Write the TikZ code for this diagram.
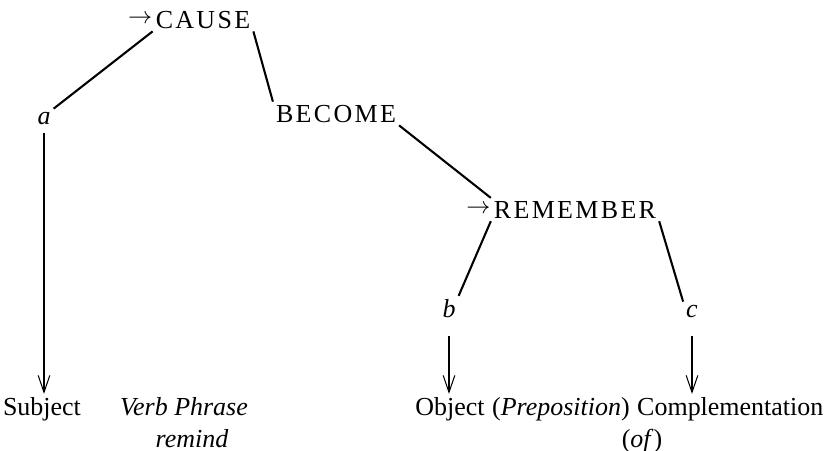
\documentclass[tikz,border=0pt]{standalone}
\usepackage{fontspec}
\setmainfont{Liberation Serif}
\usetikzlibrary{arrows.meta,positioning}

\begin{document}
\begin{tikzpicture}[
  x=0.385pt, y=-0.385pt,
  word/.style={inner sep=1pt, anchor=base},
  pred/.style={word, font=\addfontfeature{LetterSpace=9}},
  tick/.style={inner sep=0pt, font=\small},
  branch/.style={line width=0.8pt},
  maps/.style={line width=0.4pt, -{Straight Barb[length=6.5pt,width=4.5pt]}},
  >=Stealth
]
  \useasboundingbox (0,0) rectangle (827,450);

  % Predicates of the tree
  \node[pred, label={[tick]left:$\rightarrow$}] (cause) at (203,28) {CAUSE};
  \node[pred] (become) at (336,122) {BECOME};
  \node[pred, label={[tick]left:$\rightarrow$}] (remember) at (575,218) {REMEMBER};

  % Arguments
  \node[word] (a) at (44,124) {\textit{a}};
  \node[word] (b) at (449,317) {\textit{b}};
  \node[word] (c) at (692,317) {\textit{c}};

  % Surface categories
  \node[word] (subj) at (42,415) {Subject};
  \node[word] (vp) at (184,415) {\textit{Verb Phrase}};
  \node[word] (remind) at (192,447) {\textit{remind}};
  \node[word] (obj) at (450,415) {Object};
  \node[word, base right=0.5pt of obj] (prep) {(\textit{Preposition})};
  \node[word, base right=0.5pt of prep] (compl) {Complementation};
  \node[word] (of) at (642,447) {(\textit{of})};

  % Branches
  \draw[branch] (cause.south west) -- (a.north east);
  \draw[branch] (cause.south east) -- (become.north west);
  \draw[branch] (become.south east) -- (remember.north west);
  \draw[branch] (remember.south west) -- (b.north east);
  \draw[branch] (remember.south east) -- (c.north west);

  % Mappings
  \draw[maps, shorten <=2pt] (a) -- (a |- subj.north);
  \draw[maps, shorten <=6pt] (b) -- (b |- obj.north);
  \draw[maps, shorten <=6pt] (c) -- (c |- compl.north);
\end{tikzpicture}
\end{document}
